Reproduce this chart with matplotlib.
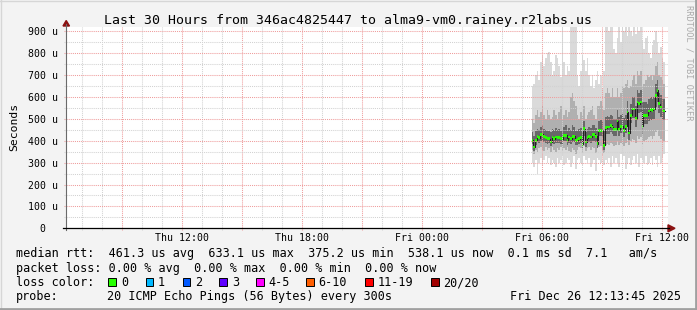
import matplotlib
matplotlib.use("Agg")
import matplotlib.pyplot as plt
import numpy as np
from matplotlib.patches import Rectangle, Polygon
from matplotlib.lines import Line2D

W, H = 697, 310

# ---------------- data ----------------
title = "Last 30 Hours from 346ac4825447 to alma9-vm0.rainey.r2labs.us"
y_label = "Seconds"
x_tick_hours = [12, 18, 24, 30, 36]           # hours since Thu 00:00
x_tick_labels = ["Thu 12:00", "Thu 18:00", "Fri 00:00", "Fri 06:00", "Fri 12:00"]
y_tick_values = [0, 100, 200, 300, 400, 500, 600, 700, 800, 900]   # microseconds
y_tick_labels = ["0  ", "100 u", "200 u", "300 u", "400 u", "500 u",
                 "600 u", "700 u", "800 u", "900 u"]
x_range = (6.215, 36.30)
y_range = (0, 920)

start_hour = 29.5          # Fri 05:30
step_hours = 5 / 60        # 300 s

median = [402, 371, 402, 420, 414, 429, 429, 420, 414, 409,
          409, 394, 417, 409, 417, 414, 414, 409, 409, 425,
          425, 402, 417, 409, 420, 420, 402, 405, 409, 414,
          384, 455, 394, 414, 420, 417, 429, 429, 420, 387,
          447, 447, 444, 379, 460, 463, 463, 470, 463, 451,
          451, 490, 451, 466, 466, 447, 466, 531, 435, 516,
          546, 546, 501, 577, 569, 577, 466, 516, 516, 516,
          536, 542, 539, 546, 607, 630, 569, 554, 539, 536]

smoke_max = [650, 660, 700, 720, 680, 760, 790, 740, 780, 800,
             805, 760, 700, 720, 790, 780, 740, 690, 920, 760,
             700, 740, 720, 950, 950, 930, 950, 700, 650, 720,
             790, 770, 720, 780, 700, 650, 700, 640, 680, 720,
             660, 700, 640, 720, 950, 950, 900, 950, 950, 820,
             800, 870, 950, 850, 950, 900, 950, 880, 950, 900,
             880, 950, 890, 950, 900, 950, 860, 820, 870, 880,
             800, 780, 840, 860, 900, 850, 800, 830, 780, 760]

smoke_min = [300, 280, 310, 250, 300, 320, 290, 310, 330, 300,
             320, 290, 310, 300, 280, 320, 300, 310, 330, 290,
             300, 320, 310, 280, 300, 330, 270, 310, 320, 300,
             290, 330, 310, 300, 320, 280, 300, 310, 260, 320,
             310, 300, 330, 290, 310, 300, 320, 280, 330, 300,
             320, 300, 280, 340, 310, 330, 270, 300, 320, 290,
             310, 330, 300, 340, 280, 320, 310, 300, 330, 290,
             300, 320, 290, 330, 310, 280, 330, 300, 320, 340]

smoke_mid_hi = [500, 480, 520, 540, 510, 530, 560, 520, 500, 540,
                520, 500, 510, 540, 520, 500, 530, 560, 500, 520,
                540, 510, 530, 600, 620, 580, 560, 520, 500, 530,
                520, 560, 500, 520, 530, 540, 560, 520, 500, 560,
                560, 580, 560, 540, 620, 640, 620, 600, 640, 600,
                600, 640, 600, 620, 650, 640, 660, 680, 640, 650,
                680, 700, 660, 720, 700, 720, 650, 660, 680, 700,
                690, 700, 680, 700, 740, 760, 700, 690, 680, 660]

smoke_mid_lo = [360, 340, 360, 350, 365, 370, 360, 355, 370, 360,
                365, 350, 370, 360, 350, 365, 360, 370, 355, 365,
                360, 370, 355, 350, 365, 360, 340, 360, 370, 365,
                345, 375, 355, 365, 370, 360, 370, 365, 345, 380,
                370, 375, 360, 345, 380, 385, 380, 390, 385, 375,
                380, 400, 380, 390, 385, 375, 390, 410, 380, 400,
                410, 405, 390, 420, 410, 415, 380, 400, 405, 410,
                415, 420, 410, 420, 440, 450, 420, 410, 405, 400]

smoke_in_hi = [440, 420, 445, 455, 450, 465, 470, 455, 450, 445,
               445, 440, 455, 450, 460, 450, 455, 445, 450, 465,
               470, 445, 460, 450, 470, 465, 445, 450, 455, 460,
               440, 490, 440, 455, 465, 460, 470, 470, 460, 445,
               490, 495, 490, 450, 510, 515, 510, 520, 515, 500,
               500, 540, 510, 520, 525, 505, 520, 580, 500, 570,
               600, 600, 560, 630, 620, 630, 530, 575, 575, 570,
               590, 600, 590, 600, 660, 680, 620, 610, 590, 590]

smoke_in_lo = [385, 355, 380, 395, 390, 400, 400, 395, 390, 385,
               388, 375, 392, 385, 392, 390, 390, 385, 385, 400,
               400, 380, 392, 385, 395, 395, 380, 382, 385, 390,
               365, 420, 372, 390, 395, 392, 400, 400, 395, 368,
               420, 420, 415, 360, 430, 432, 432, 440, 432, 420,
               420, 455, 420, 435, 435, 415, 435, 490, 405, 480,
               505, 505, 465, 530, 525, 530, 430, 475, 475, 475,
               490, 495, 495, 500, 555, 575, 525, 510, 495, 495]

legend_line1 = "median rtt:  461.3 us avg  633.1 us max  375.2 us min  538.1 us now  0.1 ms sd  7.1   am/s"
legend_line2 = "packet loss: 0.00 % avg  0.00 % max  0.00 % min  0.00 % now"
legend_line3 = "loss color:"
loss_labels = ["0", "1", "2", "3", "4-5", "6-10", "11-19", "20/20"]
loss_colors = ["#26ff00", "#00b8ff", "#0059ff", "#5e00ff",
               "#ff00ff", "#ff5e00", "#ff0000", "#a10000"]
probe_label = "probe:"
probe_text = "20 ICMP Echo Pings (56 Bytes) every 300s"
stamp_text = "Fri Dec 26 12:13:45 2025"
side_text = "RRDTOOL / TOBI OETIKER"

# ---------------- layout helpers ----------------
plt.rcParams['font.family'] = ['DejaVu Sans Mono']

def fx(x):
    return x / W

def fy(y):
    return 1 - y / H

fig = plt.figure(figsize=(W / 100, H / 100), dpi=100)
fig.patch.set_facecolor('#f3f3f3')

ax_l, ax_r, ax_t, ax_b = 66, 667.7, 27, 228.3
ax = fig.add_axes([fx(ax_l), fy(ax_b), (ax_r - ax_l) / W, (ax_b - ax_t) / H])
ax.set_facecolor('white')
for s in ax.spines.values():
    s.set_visible(False)
ax.set_xlim(*x_range)
ax.set_ylim(*y_range)

# ---------------- smoke ----------------
n = len(median)
t = start_hour + step_hours * np.arange(n)
te = np.append(t, t[-1] + step_hours)

def ext(a):
    a = np.asarray(a, dtype=float)
    return np.append(a, a[-1])

ax.fill_between(te, ext(smoke_min), ext(smoke_max), step='post',
                color='#dadada', lw=0, zorder=2)
ax.fill_between(te, ext(smoke_mid_lo), ext(smoke_mid_hi), step='post',
                color='#b0b0b0', lw=0, zorder=3)
ax.fill_between(te, ext(smoke_in_lo), ext(smoke_in_hi), step='post',
                color='#686868', lw=0, zorder=4)
ax.step(te, ext(median), where='post', color='#202020', lw=0.8, zorder=5)
med = np.asarray(median, dtype=float)
ax.bar(t, 12, bottom=med - 6, width=step_hours, align='edge',
       color=loss_colors[0], lw=0, zorder=6)

# ---------------- grid ----------------
px_per_h = (ax_r - ax_l) / (x_range[1] - x_range[0])
px_per_us = (ax_b - ax_t) / (y_range[1] - y_range[0])
xl_ext = x_range[0] - 2 / px_per_h
yb_ext = -2 / px_per_us
dot = (0, (1, 1))
for h in np.arange(7, 37, 1):
    major = (h % 3 == 0)
    ax.plot([h, h], [yb_ext, y_range[1]], color='#ef9c9c' if major else '#d2d2d2',
            lw=0.75, ls=dot, zorder=8, clip_on=False)
for v in np.arange(50, 920, 50):
    major = (v % 100 == 0)
    ax.plot([xl_ext, x_range[1]], [v, v], color='#ef9c9c' if major else '#d2d2d2',
            lw=0.75, ls=dot, zorder=8, clip_on=False)

# ---------------- ticks ----------------
ax.set_xticks(x_tick_hours, x_tick_labels)
ax.set_yticks(y_tick_values, y_tick_labels)
ax.tick_params(axis='x', length=0, pad=3.2, labelsize=7.1, colors='#000000')
ax.tick_params(axis='y', length=0, pad=6.0, labelsize=7.1, colors='#000000')

# ---------------- axes lines & arrows ----------------
fig.add_artist(Line2D([fx(66), fx(66)], [fy(230), fy(24)], color='#6a6a6a', lw=0.8))
fig.add_artist(Line2D([fx(63), fx(669)], [fy(228.3), fy(228.3)], color='#000000', lw=0.9))
fig.add_artist(Polygon([[fx(63), fy(26)], [fx(69.5), fy(26)], [fx(66.2), fy(20.5)]],
                       closed=True, color='#8b1111', transform=fig.transFigure))
fig.add_artist(Polygon([[fx(668), fy(224.8)], [fx(668), fy(231.8)], [fx(675), fy(228.3)]],
                       closed=True, color='#8b1111', transform=fig.transFigure))

# ---------------- texts ----------------
fig.text(fx(347.5), fy(24), title, ha='center', va='baseline', fontsize=9.5, color='#000000')
fig.text(fx(14), fy(127), y_label, ha='center', va='center', rotation=90, fontsize=8.2)
fig.text(fx(688.5), fy(5), side_text, ha='center', va='top', rotation=270,
         fontsize=6.2, color='#aaaaaa')

lg = 8.5
fig.text(fx(16), fy(257.3), legend_line1, ha='left', va='baseline', fontsize=lg)
fig.text(fx(16), fy(271.7), legend_line2, ha='left', va='baseline', fontsize=lg)
fig.text(fx(16), fy(286), legend_line3, ha='left', va='baseline', fontsize=lg)
sq_x = [108.3, 145.5, 182.6, 219.4, 256.3, 306, 365.3, 431]
for xs, lab, col in zip(sq_x, loss_labels, loss_colors):
    fig.add_artist(Rectangle((fx(xs), fy(286.3)), 7.6 / W, 8.8 / H,
                             transform=fig.transFigure, facecolor=col,
                             edgecolor='#000000', lw=0.7))
    fig.text(fx(xs + 12.5), fy(286), lab, ha='left', va='baseline', fontsize=lg)
fig.text(fx(16), fy(300.2), probe_label, ha='left', va='baseline', fontsize=lg)
fig.text(fx(107), fy(300.2), probe_text, ha='left', va='baseline', fontsize=lg)
fig.text(fx(681), fy(300.2), stamp_text, ha='right', va='baseline', fontsize=lg)

# ---------------- frame ----------------
fig.add_artist(Line2D([0, 1], [fy(0.5), fy(0.5)], color='#d6d6d6', lw=1.0))
fig.add_artist(Line2D([fx(0.5), fx(0.5)], [0, 1], color='#d6d6d6', lw=1.0))
fig.add_artist(Line2D([0, 1], [fy(308.8), fy(308.8)], color='#a0a0a0', lw=2.0))
fig.add_artist(Line2D([fx(695.8), fx(695.8)], [0, 1], color='#a0a0a0', lw=2.0))

fig.savefig('out.png', dpi=100, facecolor=fig.get_facecolor())
